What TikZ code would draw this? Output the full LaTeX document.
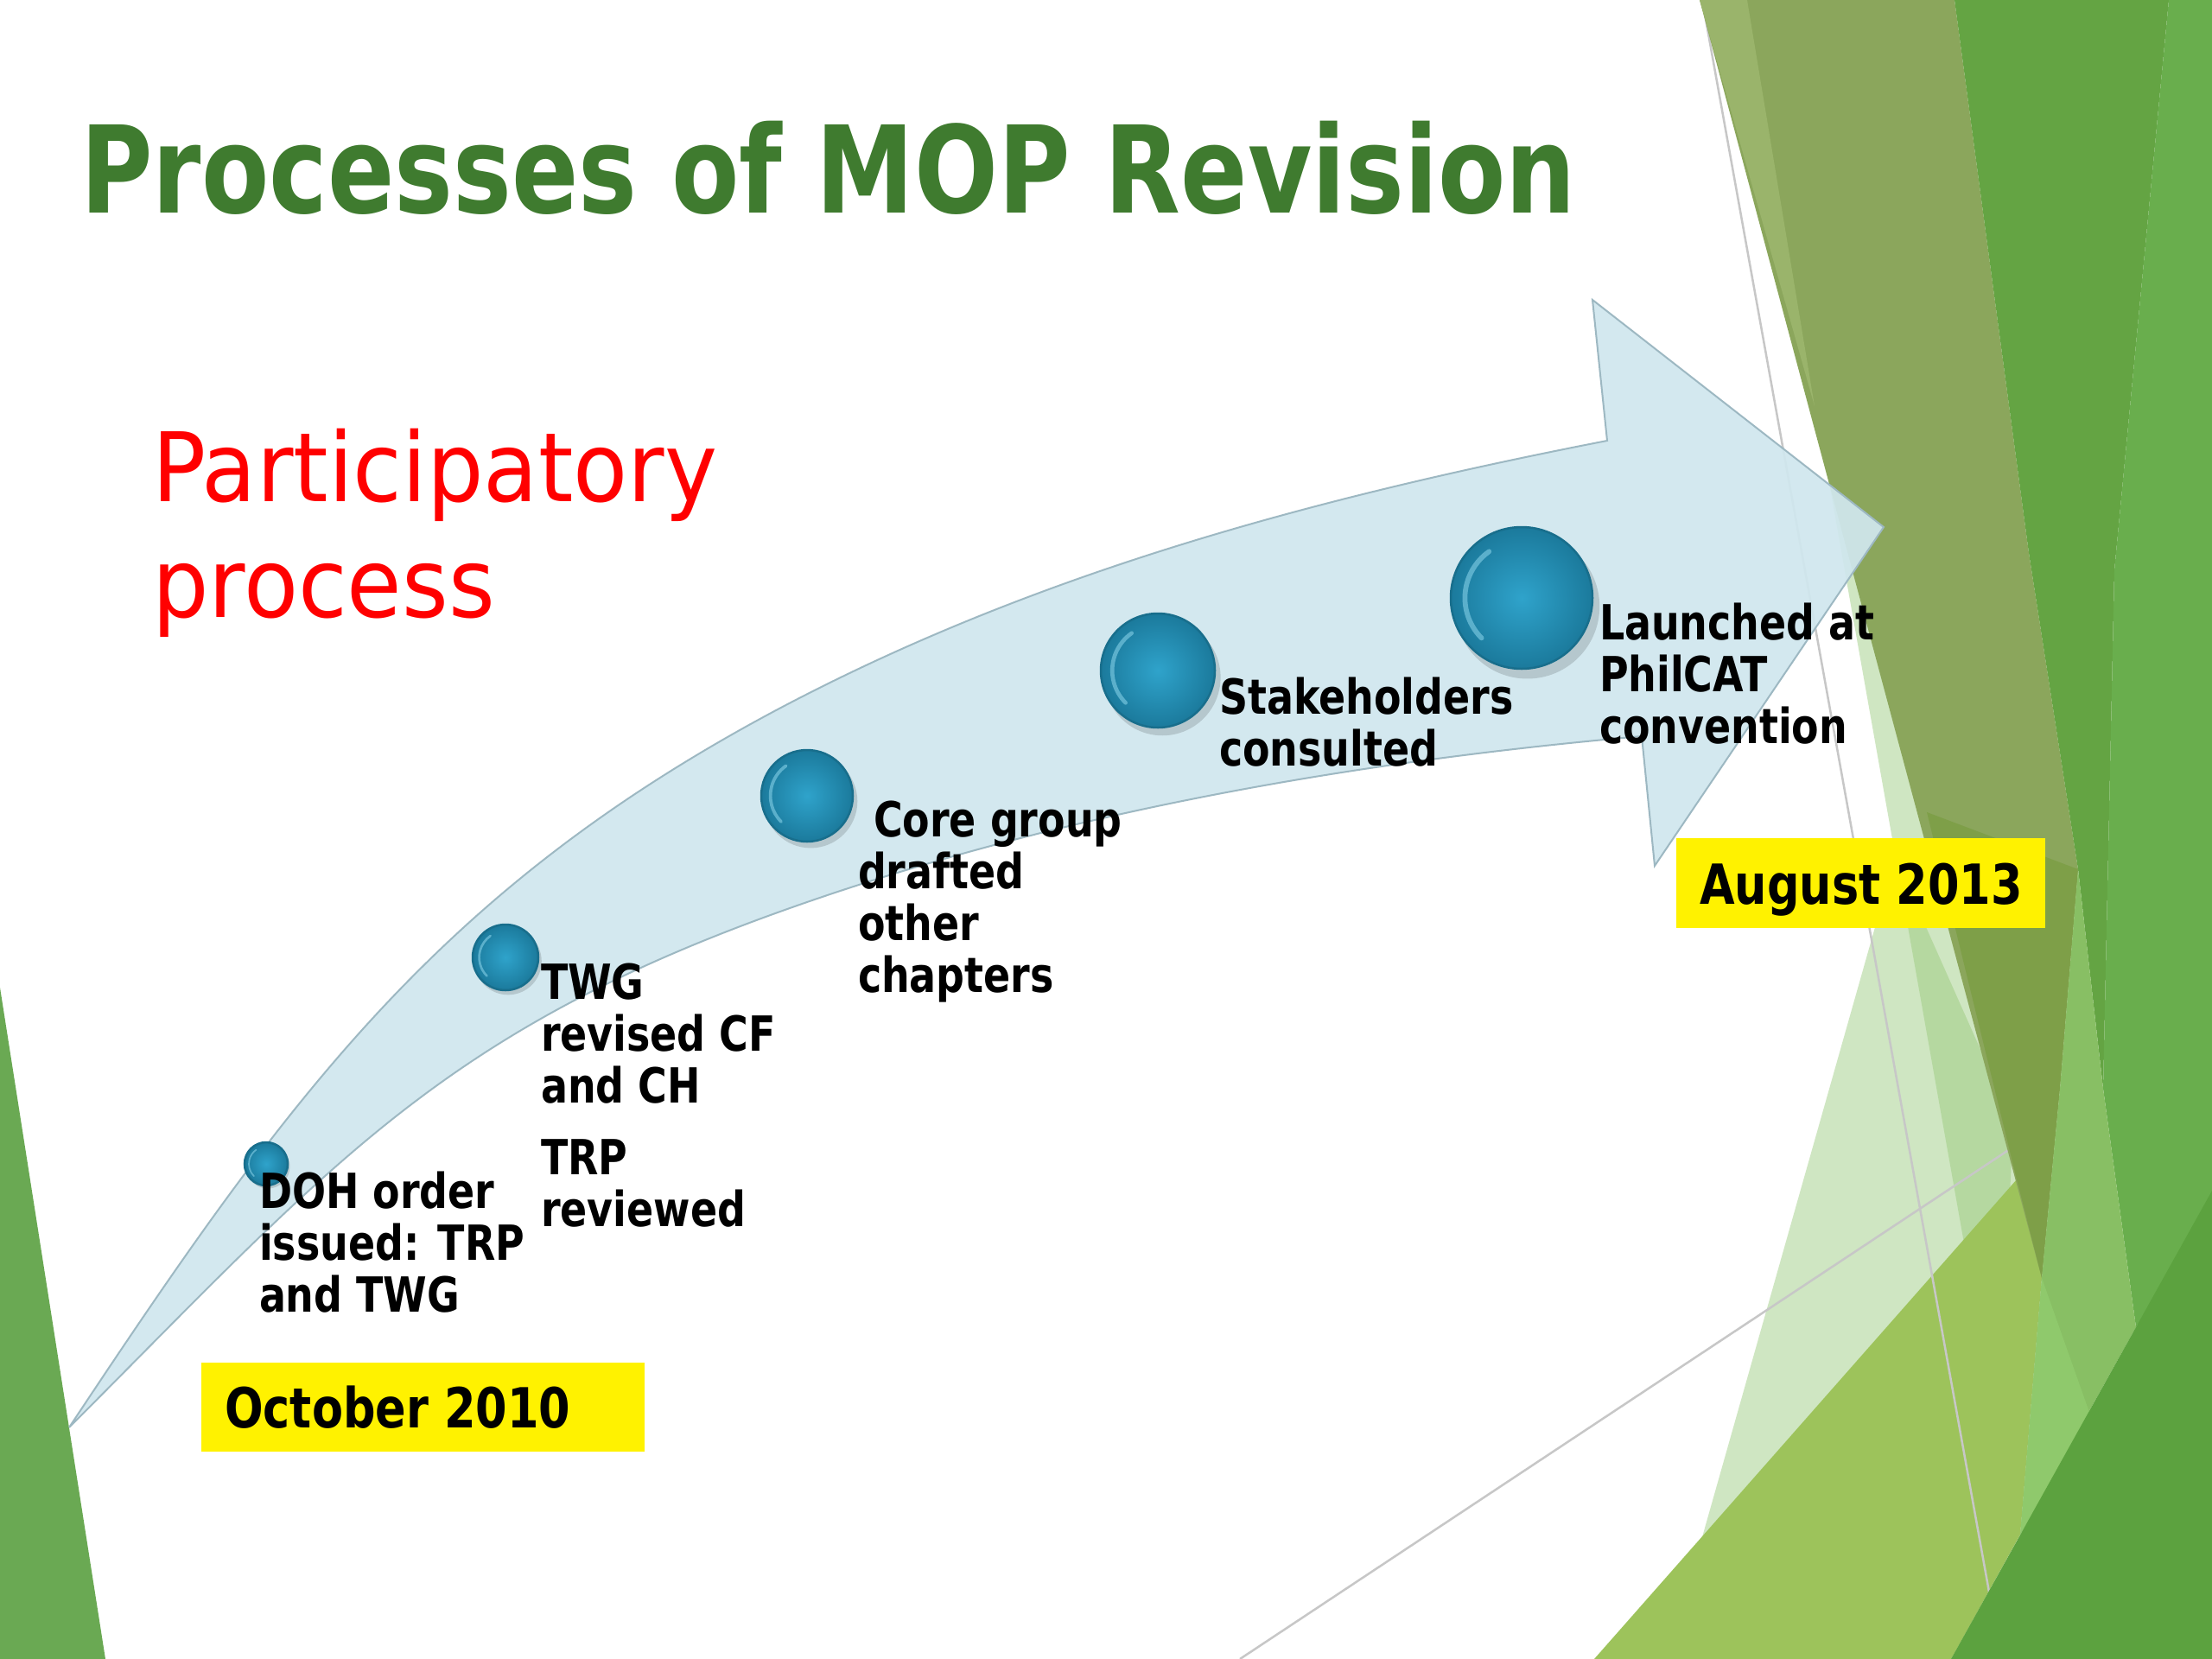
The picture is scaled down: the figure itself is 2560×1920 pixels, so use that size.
\documentclass[tikz,border=0pt]{standalone}
\usepackage{fontspec}
\newfontfamily\labf[FakeStretch=0.82]{DejaVu Sans}
\newfontfamily\titf[FakeStretch=0.815]{DejaVu Sans}
\newfontfamily\redf[FakeStretch=0.93]{DejaVu Sans}
\definecolor{titlegreen}{HTML}{3F7B2F}
\definecolor{arrowfill}{HTML}{D0E7EE}
\definecolor{arrowline}{HTML}{9DB8C2}
\definecolor{olive}{HTML}{8BA65C}
\definecolor{oliveL}{HTML}{9AB46B}
\definecolor{oliveD}{HTML}{7E9F48}
\definecolor{yg}{HTML}{9DC35B}
\definecolor{gmain}{HTML}{64A443}
\definecolor{gright}{HTML}{69AE4D}
\definecolor{glight}{HTML}{88BF64}
\definecolor{glightB}{HTML}{8FC96C}
\definecolor{gdark}{HTML}{5CA23F}
\definecolor{gleft}{HTML}{6AA953}
\definecolor{paleg}{RGB}{150,200,120}
\definecolor{ballin}{HTML}{2FA3CB}
\definecolor{ballout}{HTML}{1B7A9C}
\definecolor{ballrim}{HTML}{186E8C}
\definecolor{ballhl}{HTML}{8ED6EC}
\newcommand{\ml}[1]{\begin{tabular}[t]{@{}l@{}}#1\end{tabular}}
\newcommand{\myball}[4]{%
  \fill[black, opacity=0.14] (#2+0.08*#4, #3+0.12*#4) circle (1.02*#4);
  \node[ballnode, minimum size=2*#4] (#1) at (#2,#3) {};
  \draw[ballhl, opacity=0.55, line width=0.07*#4, line cap=round]
     (#2,#3) ++(135:0.80*#4) arc (135:235:0.80*#4);
}
\tikzset{
  ballnode/.style={circle, inner sep=0pt, outer sep=0pt, draw=ballrim, line width=2.5,
                   inner color=ballin, outer color=ballout},
  lab/.style={anchor=base west, inner sep=0pt, outer sep=0pt,
              font={\labf\bfseries\fontsize{56}{59}\selectfont}},
  datetxt/.style={anchor=base west, inner sep=0pt,
              font={\labf\bfseries\fontsize{64}{70}\selectfont}},
  ybox/.style={fill=yellow, draw=none, anchor=north west, inner sep=0pt},
  pale/.style={fill=paleg, fill opacity=0.45, draw=none},
  thinline/.style={draw=black!22, line width=2.5},
  arrowbody/.style={fill=arrowfill, fill opacity=0.93, draw=arrowline, line width=2, line join=miter}
}
\begin{document}
\begin{tikzpicture}[x=1pt,y=-1pt]
\useasboundingbox (0,0) rectangle (2560,1920);
\fill[white] (0,0) rectangle (2560,1920);

% ---- background facets ----
\fill[gleft] (0,1143) -- (122,1920) -- (0,1920) -- cycle;
\fill[pale] (2193,992) -- (1930,1920) -- (2300,1920) -- (2330,1300) -- cycle;
\fill[pale] (2110,520) -- (2275,1450) -- (2345,1380) -- (2240,520) -- cycle;
\draw[thinline] (1435,1920) -- (2560,1175);
\fill[yg] (2230,940) -- (2405,1006) -- (2363,1479) -- (2338,1776) -- (2258,1920)
          -- (1845,1920) -- (2334,1365) -- cycle;
\draw[thinline] (1970,0) -- (2316,1920);
\fill[olive] (1967,0) -- (2262,0) -- (2348,640) -- (2405,1006) -- (2384,1260) -- (2363,1479) -- cycle;
\fill[oliveL] (1967,0) -- (2022,0) -- (2100,470) -- cycle;
\fill[oliveD] (2230,940) -- (2405,1006) -- (2384,1260) -- (2363,1479) -- (2334,1365) -- cycle;
\fill[gmain] (2262,0) -- (2510,0) -- (2447,660) -- (2434,1260) -- (2405,1006) -- (2348,640) -- cycle;
\fill[gright] (2510,0) -- (2560,0) -- (2560,1400) -- (2472,1536) -- (2434,1260) -- (2447,660) -- cycle;
\fill[glight] (2405,1006) -- (2434,1260) -- (2472,1536) -- (2338,1776) -- (2363,1479) -- (2384,1260) -- cycle;
\fill[glightB] (2363,1479) -- (2420,1640) -- (2338,1776) -- cycle;
\fill[gdark] (2258,1920) -- (2560,1378) -- (2560,1920) -- cycle;

% ---- curved arrow ----
\draw[arrowbody]
  (80,1652) .. controls (329,1277) and (503,1032) .. (900,821)
            .. controls (1200,662) and (1526,575) .. (1860,510)
  -- (1843,347) -- (2180,610) -- (1915,1002) -- (1900,852)
  .. controls (1561,882) and (1220,941) .. (900,1056)
  .. controls (505,1198) and (377,1355) .. (80,1652)
  -- cycle;

% ---- milestones ----
\myball{c1}{308}{1347}{25}
\myball{c2}{585}{1108}{38}
\myball{c3}{934}{921}{53}
\myball{c4}{1340}{776}{66}
\myball{c5}{1761}{692}{82}

\node[lab] (l1) at (300,1398) {\ml{DOH order\\issued: TRP\\and TWG}};
\node[lab] (l2) at (626,1156) {\ml{TWG\\revised CF\\and CH}};
\node[lab] (l3) at (626,1359) {\ml{TRP\\reviewed}};
\node[lab] (l4) at (993,968) {\ml{\hspace*{18pt}Core group\\drafted\\other\\chapters}};
\node[lab] (l5) at (1411,826) {\ml{Stakeholders\\consulted}};
\node[lab] (l6) at (1851,740) {\ml{Launched at\\PhilCAT\\convention}};

% ---- date boxes ----
\node[ybox, minimum width=513, minimum height=103] (octbox) at (233,1577) {};
\node[datetxt] (oct) at (260,1652) {October 2010};
\node[ybox, minimum width=427, minimum height=104] (augbox) at (1940,970) {};
\node[datetxt] (aug) at (1967,1046) {August 2013};

% ---- titles ----
\node[anchor=base west, inner sep=0pt, text=titlegreen,
      font={\titf\bfseries\fontsize{140}{150}\selectfont}] (title) at (93,246) {Processes of MOP Revision};
\node[anchor=base west, inner sep=0pt, text=red,
      font={\redf\fontsize{111}{134}\selectfont}] (sub) at (176,580) {\ml{Participatory\\process}};
\end{tikzpicture}
\end{document}
